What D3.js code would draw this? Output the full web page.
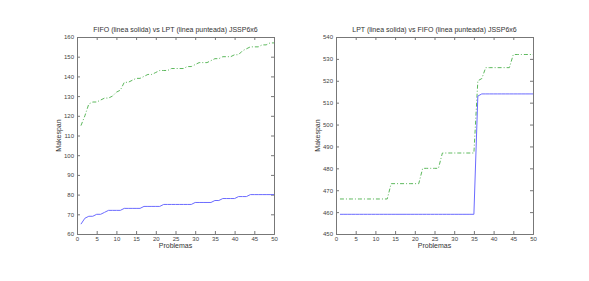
<!DOCTYPE html>
<html>
<head>
<meta charset="utf-8">
<script src="https://cdn.jsdelivr.net/npm/d3@7"></script>
<style>
  body { margin: 0; background: #fff; }
  svg { display: block; font-family: "Liberation Sans", Arial, sans-serif; }
  .tick text { fill: #444; font-size: 6px; }
</style>
</head>
<body>
<svg id="chart" width="589" height="281"></svg>
<script>
// problem index 1..50
const problems = d3.range(1, 51);

// left chart
const fifoLeft = [65, 68, 69, 69, 70, 70, 71, 72, 72, 72,
  72, 73, 73, 73, 73, 73, 74, 74, 74, 74,
  74, 75, 75, 75, 75, 75, 75, 75, 75, 76,
  76, 76, 76, 76, 77, 77, 78, 78, 78, 78,
  79, 79, 79, 80, 80, 80, 80, 80, 80, 80];
const lptLeft = [115, 120, 126, 127, 127, 128, 129, 129, 130, 132,
  133, 137, 137, 138, 139, 139, 140, 141, 141, 142,
  143, 143, 143, 144, 144, 144, 144, 145, 145, 146,
  147, 147, 147, 148, 149, 149, 150, 150, 150, 151,
  151, 153, 154, 155, 155, 155, 156, 156, 157, 157];

// right chart
const lptRight = [459, 459, 459, 459, 459, 459, 459, 459, 459, 459,
  459, 459, 459, 459, 459, 459, 459, 459, 459, 459,
  459, 459, 459, 459, 459, 459, 459, 459, 459, 459,
  459, 459, 459, 459, 459, 513, 514, 514, 514, 514,
  514, 514, 514, 514, 514, 514, 514, 514, 514, 514];
const fifoRight = [466, 466, 466, 466, 466, 466, 466, 466, 466, 466,
  466, 466, 466, 473, 473, 473, 473, 473, 473, 473,
  473, 480, 480, 480, 480, 480, 487, 487, 487, 487,
  487, 487, 487, 487, 487, 520, 521, 526, 526, 526,
  526, 526, 526, 526, 532, 532, 532, 532, 532, 532];

const xTicks = d3.range(0, 51, 5);
const yTicksLeft = d3.range(60, 161, 10);
const yTicksRight = d3.range(450, 541, 10);

const svg = d3.select("#chart");

function drawPanel(opts) {
  const { left, right, top, bottom, yDomain, yTicks, title, solid, dashed } = opts;
  const x = d3.scaleLinear().domain([0, 50]).range([left, right]);
  const y = d3.scaleLinear().domain(yDomain).range([bottom, top]);
  const g = svg.append("g");

  // axes, ticks pointing inward like matlab
  const axes = [
    [d3.axisBottom(x).tickValues(xTicks).tickSize(-3).tickPadding(3), `translate(0,${bottom})`, true],
    [d3.axisTop(x).tickValues(xTicks).tickSize(-3).tickFormat(""), `translate(0,${top})`, false],
    [d3.axisLeft(y).tickValues(yTicks).tickSize(-3).tickPadding(3), `translate(${left},0)`, true],
    [d3.axisRight(y).tickValues(yTicks).tickSize(-3).tickFormat(""), `translate(${right},0)`, false],
  ];
  axes.forEach(([ax, tr]) => {
    const a = g.append("g").attr("transform", tr).call(ax);
    a.select(".domain").attr("stroke", "#777");
    a.selectAll(".tick line").attr("stroke", "#777");
  });

  const line = d3.line().x((d, i) => x(problems[i])).y((d) => y(d));

  g.append("path")
    .datum(dashed)
    .attr("d", line)
    .attr("fill", "none")
    .attr("stroke", "#5cb85c")
    .attr("stroke-width", 1)
    .attr("stroke-dasharray", "4,2,1,2");

  g.append("path")
    .datum(solid)
    .attr("d", line)
    .attr("fill", "none")
    .attr("stroke", "#6b6bff")
    .attr("stroke-width", 1);

  g.append("text")
    .attr("x", (left + right) / 2)
    .attr("y", top - 5)
    .attr("text-anchor", "middle")
    .attr("font-size", 7)
    .attr("fill", "#333")
    .text(title);

  g.append("text")
    .attr("x", (left + right) / 2)
    .attr("y", bottom + 14)
    .attr("text-anchor", "middle")
    .attr("font-size", 7)
    .attr("fill", "#333")
    .text("Problemas");

  g.append("text")
    .attr("transform", `translate(${left - 16},${(top + bottom) / 2}) rotate(-90)`)
    .attr("text-anchor", "middle")
    .attr("font-size", 7)
    .attr("fill", "#333")
    .text("Makespan");
}

drawPanel({
  left: 77, right: 274, top: 37, bottom: 234,
  yDomain: [60, 160], yTicks: yTicksLeft,
  title: "FIFO (linea solida) vs LPT (linea punteada) JSSP6x6",
  solid: fifoLeft, dashed: lptLeft,
});

drawPanel({
  left: 336, right: 533, top: 37, bottom: 234,
  yDomain: [450, 540], yTicks: yTicksRight,
  title: "LPT (linea solida) vs FIFO (linea punteada) JSSP6x6",
  solid: lptRight, dashed: fifoRight,
});
</script>
</body>
</html>
